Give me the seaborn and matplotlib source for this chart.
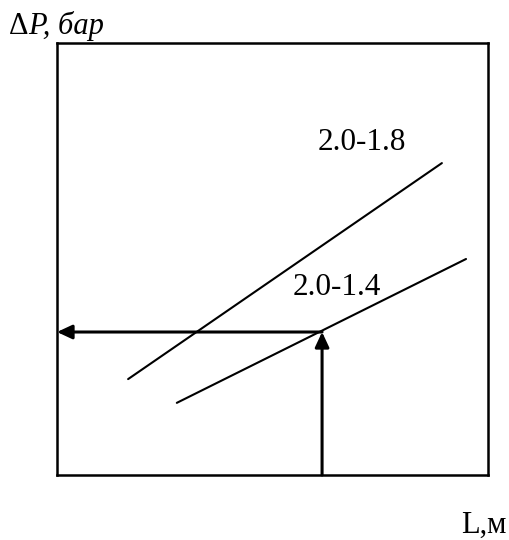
import numpy as np
import pandas as pd
import matplotlib
matplotlib.use('Agg')
import matplotlib.pyplot as plt
import seaborn as sns

sns.set_style('white')
plt.rcParams['font.family'] = ['Liberation Serif', 'DejaVu Serif']
plt.rcParams['text.color'] = 'black'

# curves (arbitrary units)
x_18 = [1.65, 8.93]
y_18 = [2.22, 7.22]
x_14 = [2.78, 9.49]
y_14 = [1.67, 5.00]
curve_labels = ['2.0-1.8', '2.0-1.4']
label_x = [7.08, 6.50]
label_y = [7.69, 4.33]

# working point
L_point = 6.15
P_point = 3.31

df = pd.DataFrame({
    'L': x_18 + x_14,
    'P': y_18 + y_14,
    'curve': [curve_labels[0]] * 2 + [curve_labels[1]] * 2,
})

fig = plt.figure(figsize=(5.1, 5.4), dpi=100)
ax = fig.add_axes([57 / 510, 65 / 540, 431 / 510, 432 / 540])

sns.lineplot(data=df, x='L', y='P', units='curve', estimator=None,
             color='black', linewidth=1.5, ax=ax, legend=False)

for lab, lx, ly in zip(curve_labels, label_x, label_y):
    ax.text(lx, ly, lab, fontsize=22.5, ha='center', va='center', color='black')

arrow = dict(arrowstyle='-|>,head_length=0.9,head_width=0.42', color='black',
             lw=2.2, shrinkA=0, shrinkB=0)
ax.annotate('', xy=(L_point, P_point), xytext=(L_point, 0), arrowprops=arrow)
ax.annotate('', xy=(0, P_point), xytext=(L_point, P_point), arrowprops=arrow)

ax.set_xlim(0, 10)
ax.set_ylim(0, 10)
ax.set_xticks([])
ax.set_yticks([])
ax.set_xlabel('')
ax.set_ylabel('')
for s in ax.spines.values():
    s.set_visible(True)
    s.set_color('black')
    s.set_linewidth(1.8)

fig.text(9 / 510, 1 - 34 / 540, '\u0394', fontsize=22, ha='left', va='baseline')
fig.text(28 / 510, 1 - 34 / 540, 'P, \u0431\u0430\u0440', fontsize=22, style='italic',
         ha='left', va='baseline')
fig.text(461 / 510, 1 - 533 / 540, 'L,\u043c', fontsize=22, ha='left', va='baseline')

fig.savefig('out.png', dpi=100)
